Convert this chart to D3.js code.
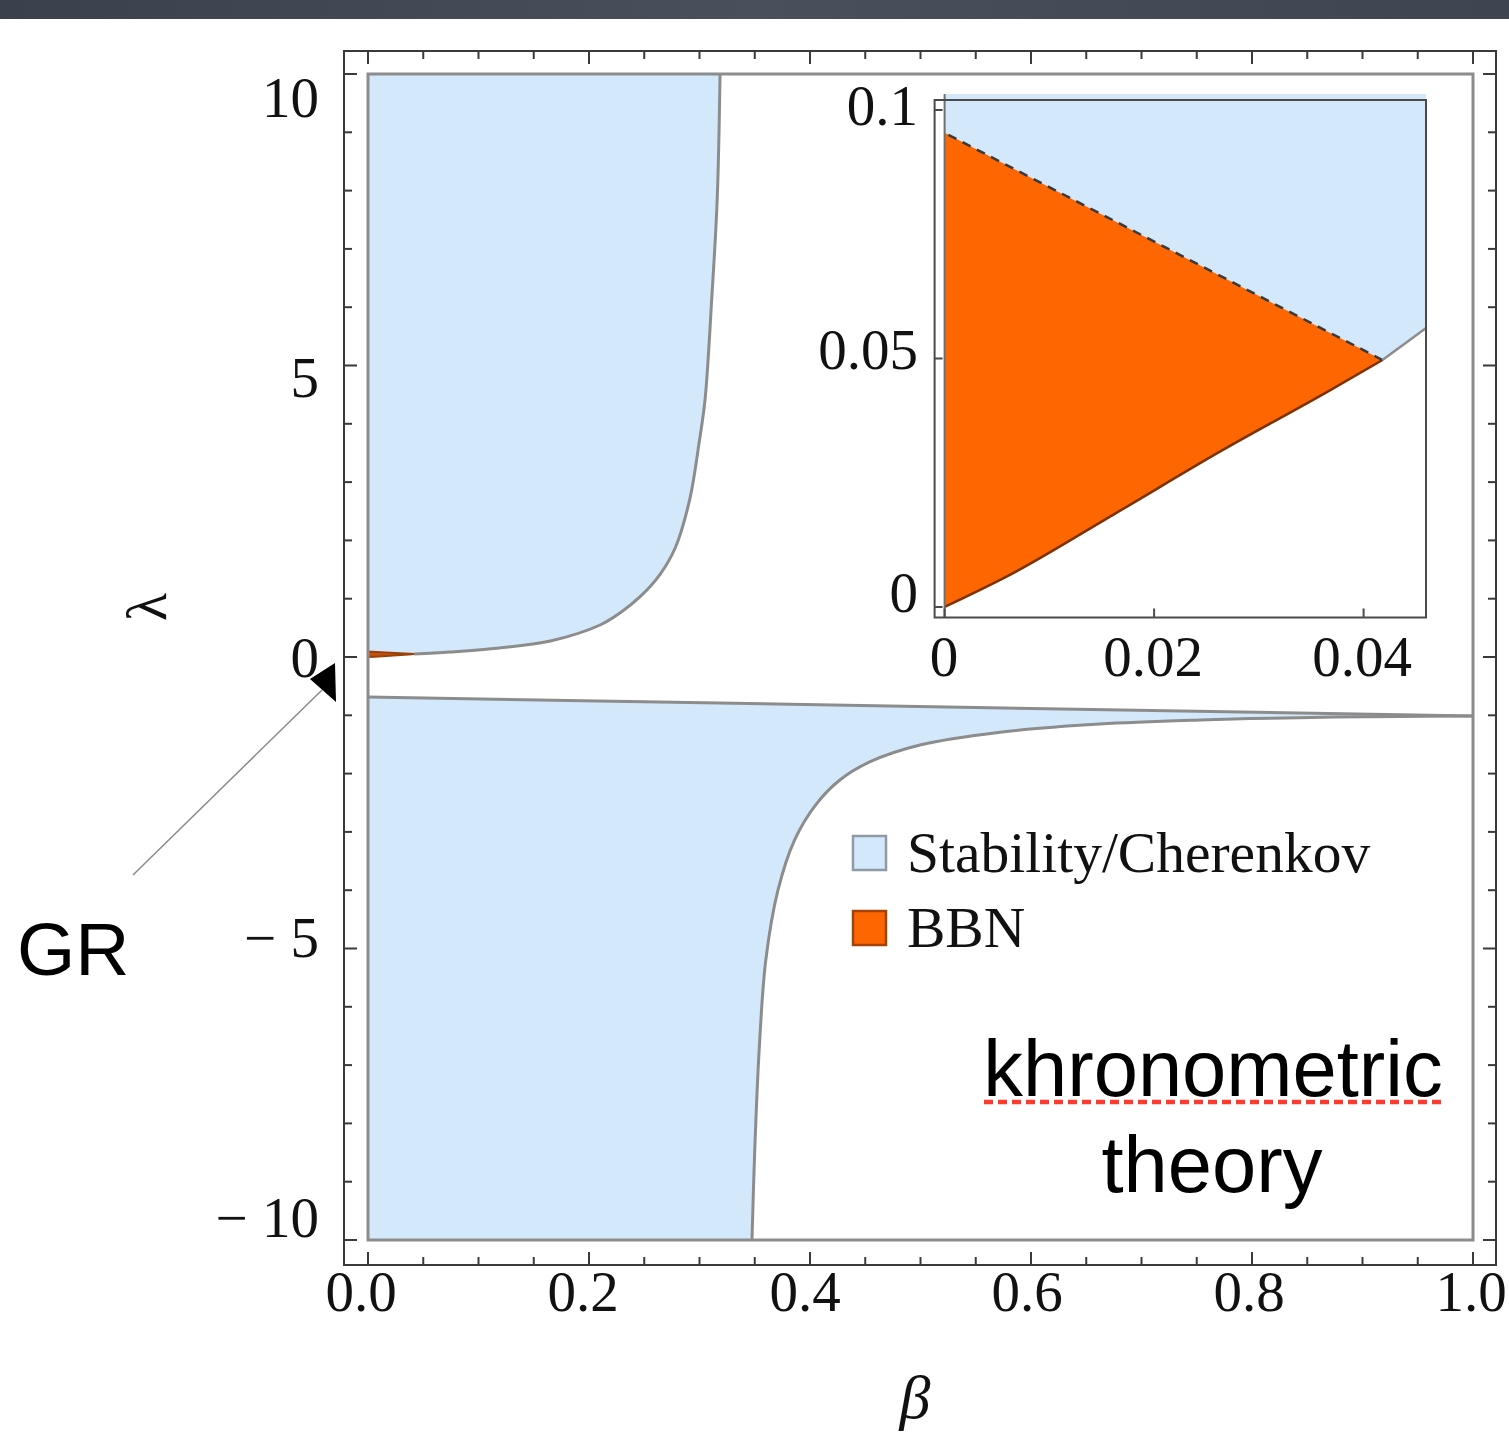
<!DOCTYPE html>
<html>
<head>
<meta charset="utf-8">
<script src="https://cdn.jsdelivr.net/npm/d3@7"></script>
<style>
  html, body { margin: 0; padding: 0; background: #ffffff; }
  svg { display: block; }
</style>
</head>
<body>
<script>
// ---- data -------------------------------------------------------------
const betaTicks = [0, 0.2, 0.4, 0.6, 0.8, 1.0];
const betaTickLabels = ["0.0", "0.2", "0.4", "0.6", "0.8", "1.0"];
const lambdaTicks = [-10, -5, 0, 5, 10];
const lambdaTickLabels = ["\u2212 10", "\u2212 5", "0", "5", "10"];

const insetBetaTicks = [0, 0.02, 0.04];
const insetBetaTickLabels = ["0", "0.02", "0.04"];
const insetLambdaTicks = [0, 0.05, 0.1];
const insetLambdaTickLabels = ["0", "0.05", "0.1"];

const legendNames = ["Stability/Cherenkov", "BBN"];

// (beta, lambda) along the edge of the upper stable region
const upperStabilityEdge = [
  [0, 0], [0.0162, 0.0187], [0.0418, 0.0497], [0.074, 0.085], [0.119, 0.154],
  [0.165, 0.274], [0.210, 0.549], [0.228, 0.755], [0.246, 1.03], [0.264, 1.41],
  [0.278, 1.87], [0.291, 2.69], [0.300, 3.72], [0.305, 4.41], [0.311, 6.12],
  [0.316, 7.84], [0.3186, 10]
];
// (beta, lambda) along the curved edge of the lower stable region
const lowerStabilityEdge = [
  [0.3475, -10], [0.350, -8.46], [0.354, -6.74], [0.360, -5.20], [0.371, -4.0],
  [0.386, -3.14], [0.405, -2.54], [0.427, -2.11], [0.454, -1.80], [0.4995, -1.51],
  [0.572, -1.29], [0.662, -1.15], [0.753, -1.08], [0.843, -1.04], [0.934, -1.02],
  [1.0, -1.012]
];
// straight upper edge of the lower stable region
const stabilityLine = [[0, -0.686], [1, -1.012]];

// close-up near the origin
const insetStabilityEdge = [
  [0, 0], [0.006, 0.0062], [0.0162, 0.0187], [0.0264, 0.0314],
  [0.0367, 0.0435], [0.0418, 0.0497], [0.046, 0.0562]
];
const bbnApex = [0.0418, 0.0497];
const bbnUpperEdge = [[0.0418, 0.0497], [0, 0.0954]];

// ---- layout -----------------------------------------------------------
const W = 1509, H = 1433;
const svg = d3.select("body").append("svg").attr("width", W).attr("height", H);

const COL = {
  blue: "#d3e8fb",
  edge: "#8c8c8c",
  orange: "#fd6600",
  brown: "#7d3200",
  frame: "#3a3a3a",
  text: "#111111"
};

// dark band across the very top
const grad = svg.append("defs").append("linearGradient").attr("id", "band")
  .attr("x1", 0).attr("x2", 1).attr("y1", 0).attr("y2", 0);
grad.append("stop").attr("offset", 0).attr("stop-color", "#3b414c");
grad.append("stop").attr("offset", 0.5).attr("stop-color", "#4a505b");
grad.append("stop").attr("offset", 1).attr("stop-color", "#3f4550");
svg.append("rect").attr("x", 0).attr("y", 0).attr("width", W).attr("height", 19)
  .attr("fill", "url(#band)");

// main scales
const x = d3.scaleLinear().domain([0, 1]).range([368, 1473]);
const y = d3.scaleLinear().domain([-10, 10]).range([1240, 74]);
// tick label placement
const xLab = d3.scaleLinear().domain([0, 1]).range([361, 1471]);
const yLab = d3.scaleLinear().domain([-10, 10]).range([1237, 117]);

const frame = { x0: 344, x1: 1496, y0: 51, y1: 1265 };

const line = d3.line().x(d => x(d[0])).y(d => y(d[1]));
const curve = d3.line().x(d => x(d[0])).y(d => y(d[1])).curve(d3.curveCatmullRom.alpha(0.5));

const main = svg.append("g");

// upper stable region
main.append("path")
  .attr("d", curve(upperStabilityEdge) + `L${x(0)},${y(10)}Z`)
  .attr("fill", COL.blue);

// lower stable region
const lowerRev = lowerStabilityEdge.slice().reverse();
main.append("path")
  .attr("d", `M${x(0)},${y(-10)}L${x(stabilityLine[0][0])},${y(stabilityLine[0][1])}` +
             `L${x(stabilityLine[1][0])},${y(stabilityLine[1][1])}` +
             curve(lowerRev).replace(/^M/, "L") + "Z")
  .attr("fill", COL.blue);

// region edges
main.append("path").attr("d", curve(upperStabilityEdge.filter(d => d[0] >= 0.0418)))
  .attr("fill", "none").attr("stroke", COL.edge).attr("stroke-width", 3);
main.append("path").attr("d", curve(lowerStabilityEdge))
  .attr("fill", "none").attr("stroke", COL.edge).attr("stroke-width", 3);
main.append("path").attr("d", line(stabilityLine))
  .attr("fill", "none").attr("stroke", COL.edge).attr("stroke-width", 3);

// tiny BBN wedge at the origin
const bbnPoly = insetStabilityEdge.filter(d => d[0] <= bbnApex[0]).concat([bbnUpperEdge[1]]);
main.append("path").attr("d", line(bbnPoly) + "Z")
  .attr("fill", "#c4520c").attr("stroke", "#9a4008").attr("stroke-width", 2);

// data-range border
main.append("rect")
  .attr("x", x(0)).attr("y", y(10)).attr("width", x(1) - x(0)).attr("height", y(-10) - y(10))
  .attr("fill", "none").attr("stroke", COL.edge).attr("stroke-width", 3);

// outer frame with inward ticks
const fr = svg.append("g").attr("stroke", COL.frame).attr("stroke-width", 2);
fr.append("rect").attr("x", frame.x0).attr("y", frame.y0)
  .attr("width", frame.x1 - frame.x0).attr("height", frame.y1 - frame.y0).attr("fill", "none");

const betaMinor = d3.range(0, 1.0001, 0.05);
betaMinor.forEach(b => {
  const major = Math.abs(b / 0.2 - Math.round(b / 0.2)) < 1e-6;
  const len = major ? 13 : 8;
  fr.append("line").attr("x1", x(b)).attr("x2", x(b)).attr("y1", frame.y0).attr("y2", frame.y0 + len);
  fr.append("line").attr("x1", x(b)).attr("x2", x(b)).attr("y1", frame.y1).attr("y2", frame.y1 - len);
});
d3.range(-10, 10.5, 1).forEach(l => {
  const len = (l % 5 === 0) ? 13 : 8;
  fr.append("line").attr("y1", y(l)).attr("y2", y(l)).attr("x1", frame.x0).attr("x2", frame.x0 + len);
  fr.append("line").attr("y1", y(l)).attr("y2", y(l)).attr("x1", frame.x1).attr("x2", frame.x1 - len);
});

const serif = "'Liberation Serif', 'Times New Roman', serif";
const sans = "'Liberation Sans', Arial, sans-serif";

// tick labels
svg.append("g").selectAll("text").data(betaTicks).join("text")
  .attr("x", d => xLab(d)).attr("y", 1311).attr("text-anchor", "middle")
  .attr("font-family", serif).attr("font-size", 57).attr("fill", COL.text)
  .text((d, i) => betaTickLabels[i]);
svg.append("g").selectAll("text").data(lambdaTicks).join("text")
  .attr("x", 319).attr("y", d => yLab(d)).attr("text-anchor", "end")
  .attr("font-family", serif).attr("font-size", 57).attr("fill", COL.text)
  .attr("xml:space", "preserve")
  .text((d, i) => lambdaTickLabels[i]);

// axis labels
svg.append("text").attr("x", 915).attr("y", 1418).attr("text-anchor", "middle")
  .attr("font-family", serif).attr("font-style", "italic").attr("font-size", 62)
  .attr("fill", COL.text).text("\u03b2");
svg.append("text").attr("transform", "translate(166,607) rotate(-90)")
  .attr("text-anchor", "middle")
  .attr("font-family", serif).attr("font-size", 58).attr("fill", COL.text).text("\u03bb");

// ---- inset ------------------------------------------------------------
const ib = { x0: 934.6, x1: 1426, y0: 100, y1: 617.5 };
const xi = d3.scaleLinear().domain([0, 0.02]).range([944.6, 1154.1]);
const yi = d3.scaleLinear().domain([0, 0.05]).range([607, 358.5]);
const xiLab = d3.scaleLinear().domain([0, 0.04]).range([944, 1362]);
const yiLab = d3.scaleLinear().domain([0, 0.1]).range([612, 125]);
const lineI = d3.line().x(d => xi(d[0])).y(d => yi(d[1]));
const curveI = d3.line().x(d => xi(d[0])).y(d => yi(d[1])).curve(d3.curveMonotoneX);

const inset = svg.append("g");
inset.append("rect").attr("x", ib.x0).attr("y", ib.y0)
  .attr("width", ib.x1 - ib.x0).attr("height", ib.y1 - ib.y0).attr("fill", "#ffffff");

const lamTop = yi.invert(94);
const betaRight = xi.invert(ib.x1);
const edgeRev = insetStabilityEdge.slice().reverse();
inset.append("path")
  .attr("d", `M${xi(0)},${yi(lamTop)}L${xi(betaRight)},${yi(lamTop)}` +
             curveI(edgeRev).replace(/^M/, "L") + "Z")
  .attr("fill", COL.blue);

// BBN region
const bbnLower = insetStabilityEdge.filter(d => d[0] <= bbnApex[0]);
inset.append("path").attr("d", curveI(bbnLower) + `L${xi(bbnUpperEdge[1][0])},${yi(bbnUpperEdge[1][1])}Z`)
  .attr("fill", COL.orange);
inset.append("path").attr("d", curveI(bbnLower))
  .attr("fill", "none").attr("stroke", COL.brown).attr("stroke-width", 2.5);
inset.append("path").attr("d", lineI(bbnUpperEdge))
  .attr("fill", "none").attr("stroke", "#3a3a3a").attr("stroke-width", 2.5)
  .attr("stroke-dasharray", "9,7");
inset.append("path").attr("d", lineI(insetStabilityEdge.filter(d => d[0] >= bbnApex[0])))
  .attr("fill", "none").attr("stroke", COL.edge).attr("stroke-width", 2.5);
// beta = 0 edge
inset.append("line").attr("x1", xi(0)).attr("x2", xi(0)).attr("y1", 94).attr("y2", ib.y1)
  .attr("stroke", "#6f6f6f").attr("stroke-width", 2);

const fi = inset.append("g").attr("stroke", "#4a4a4a").attr("stroke-width", 2);
fi.append("rect").attr("x", ib.x0).attr("y", ib.y0)
  .attr("width", ib.x1 - ib.x0).attr("height", ib.y1 - ib.y0).attr("fill", "none");
insetLambdaTicks.forEach(l => {
  fi.append("line").attr("x1", ib.x0).attr("x2", ib.x0 + 8).attr("y1", yi(l)).attr("y2", yi(l));
});
insetBetaTicks.forEach(b => {
  fi.append("line").attr("x1", xi(b)).attr("x2", xi(b)).attr("y1", ib.y1).attr("y2", ib.y1 - 9);
});

svg.append("g").selectAll("text").data(insetLambdaTicks).join("text")
  .attr("x", 918).attr("y", d => yiLab(d)).attr("text-anchor", "end")
  .attr("font-family", serif).attr("font-size", 57).attr("fill", COL.text)
  .text((d, i) => insetLambdaTickLabels[i]);
svg.append("g").selectAll("text").data(insetBetaTicks).join("text")
  .attr("x", d => xiLab(d)).attr("y", 676).attr("text-anchor", "middle")
  .attr("font-family", serif).attr("font-size", 57).attr("fill", COL.text)
  .text((d, i) => insetBetaTickLabels[i]);

// ---- legend -----------------------------------------------------------
const legendFill = [COL.blue, COL.orange];
const legendStroke = ["#8e9ba6", "#a44208"];
const leg = svg.append("g");
legendNames.forEach((name, i) => {
  const top = 836 + i * 75;
  leg.append("rect").attr("x", 853).attr("y", top).attr("width", 33).attr("height", 34)
    .attr("fill", legendFill[i]).attr("stroke", legendStroke[i]).attr("stroke-width", 2.5);
  leg.append("text").attr("x", 907).attr("y", top + 36)
    .attr("font-family", serif).attr("font-size", 57.5).attr("fill", COL.text).text(name);
});

// ---- annotations --------------------------------------------------------
svg.append("text").attr("x", 1213).attr("y", 1096).attr("text-anchor", "middle")
  .attr("font-family", sans).attr("font-size", 79.5).attr("fill", "#000").text("khronometric");
svg.append("line").attr("x1", 984).attr("x2", 1446).attr("y1", 1102).attr("y2", 1102)
  .attr("stroke", "#ff3b30").attr("stroke-width", 4.5).attr("stroke-dasharray", "9,5");
svg.append("text").attr("x", 1212).attr("y", 1192).attr("text-anchor", "middle")
  .attr("font-family", sans).attr("font-size", 79.5).attr("fill", "#000").text("theory");

svg.append("text").attr("x", 17).attr("y", 975)
  .attr("font-family", sans).attr("font-size", 75).attr("fill", "#000").text("GR");
svg.append("line").attr("x1", 133).attr("y1", 875).attr("x2", 322).attr("y2", 690)
  .attr("stroke", "#8a8a8a").attr("stroke-width", 1.5);
svg.append("path").attr("d", "M335,663L336,702L310,679Z").attr("fill", "#000");
</script>
</body>
</html>
